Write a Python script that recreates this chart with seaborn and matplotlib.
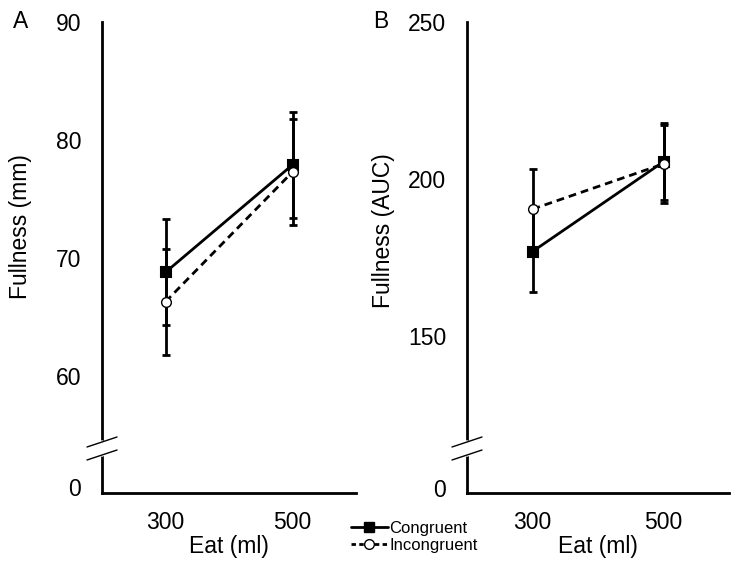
import numpy as np
import pandas as pd
import seaborn as sns
import matplotlib.pyplot as plt
from matplotlib.lines import Line2D

# dados
eat = ['300', '500']
conds = ['Congruent', 'Incongruent']

mm_cong = [68.8, 77.9]
mm_incong = [66.3, 77.3]
mm_cong_err = [4.5, 4.5]
mm_incong_err = [4.5, 4.5]

auc_cong = [176.9, 205.5]
auc_incong = [190.4, 204.8]
auc_cong_err = [12.8, 12.2]
auc_incong_err = [12.8, 12.3]

mm_ticks = [60, 70, 80, 90]
auc_ticks = [150, 200, 250]

sns.set_style('white')
plt.rcParams['font.family'] = ['Liberation Sans', 'DejaVu Sans']
plt.rcParams['text.color'] = 'black'
plt.rcParams['axes.labelcolor'] = 'black'
plt.rcParams['xtick.color'] = 'black'
plt.rcParams['ytick.color'] = 'black'

FS = 16.5

fig = plt.figure(figsize=(7.43, 5.68), dpi=100)
axA = fig.add_axes([102/743, 75/568, 254/743, 471/568])
axB = fig.add_axes([467/743, 75/568, 262/743, 471/568])


def painel(ax, cong, incong, cong_err, incong_err, ylim, ticks, zero_pos, ylabel, letra, label_xy):
    df = pd.DataFrame({
        'eat': eat * 2,
        'value': list(cong) + list(incong),
        'cond': [conds[0]] * len(eat) + [conds[1]] * len(eat),
    })
    xs = np.arange(len(eat))
    ax.errorbar(xs, cong, yerr=cong_err, fmt='none', ecolor='black',
                elinewidth=2, capsize=3, capthick=2, zorder=1)
    ax.errorbar(xs, incong, yerr=incong_err, fmt='none', ecolor='black',
                elinewidth=2, capsize=3, capthick=2, zorder=1)
    sns.pointplot(data=df, x='eat', y='value', hue='cond', order=eat, hue_order=conds,
                  palette=['black', 'black'], markers=['s', 'o'], linestyles=['-', '--'],
                  errorbar=None, legend=False, ax=ax, markersize=7, linewidth=2)
    for ln in ax.lines:
        if ln.get_marker() == 'o':
            ln.set_markerfacecolor('white')
            ln.set_markeredgecolor('black')
            ln.set_markeredgewidth(1)
            ln.set_dashes([2.8, 1.8])
            ln.set_zorder(4)
        elif ln.get_marker() == 's':
            ln.set_zorder(3)

    ax.set_xlim(-0.5, 1.5)
    ax.set_ylim(*ylim)
    ax.set_yticks([zero_pos] + ticks)
    ax.set_yticklabels(['0'] + [str(t) for t in ticks])
    ax.tick_params(axis='y', direction='in', length=3, width=1.5, pad=15, labelsize=FS)
    ax.tick_params(axis='x', length=0, pad=13, labelsize=FS)
    ax.set_xlabel('Eat (ml)', fontsize=FS, labelpad=1)
    ax.set_ylabel(ylabel, fontsize=FS)
    ax.yaxis.set_label_coords(*label_xy)
    sns.despine(ax=ax)
    for s in ['left', 'bottom']:
        ax.spines[s].set_linewidth(2)
        ax.spines[s].set_color('black')

    # quebra do eixo
    y1, y2 = (493 - 455) / 471, (493 - 442) / 471
    ax.plot([0, 0], [y1 + 0.002, y2 - 0.002], color='white', lw=4,
            transform=ax.transAxes, clip_on=False, zorder=5)
    dx = 15 / (ax.get_position().width * 743)
    dy = 5 / 471
    for yc in [y1, y2]:
        ax.plot([-dx, dx], [yc - dy, yc + dy], color='black', lw=1,
                transform=ax.transAxes, clip_on=False, zorder=6)

    ax.text(-0.32 if letra == 'A' else -0.33, 1.0, letra, transform=ax.transAxes,
            fontsize=FS, ha='center', va='center')


painel(axA, mm_cong, mm_incong, mm_cong_err, mm_incong_err, (50.1, 90), mm_ticks,
       50.6, 'Fullness (mm)', 'A', (-0.276, 0.566))
painel(axB, auc_cong, auc_incong, auc_cong_err, auc_incong_err, (100, 250), auc_ticks,
       101.6, 'Fullness (AUC)', 'B', (-0.275, 0.558))

handles = [
    Line2D([], [], color='black', lw=2, marker='s', markersize=7, label=conds[0]),
    Line2D([], [], color='black', lw=2, marker='o', markersize=7, markerfacecolor='white',
           markeredgewidth=1, dashes=[1.6, 1.2], label=conds[1]),
]
fig.legend(handles=handles, loc='upper left', bbox_to_anchor=(351/743, 1 - 521/568),
           frameon=False, fontsize=12, handlelength=2.2, handletextpad=0.1,
           labelspacing=0.1, borderpad=0, borderaxespad=0)

fig.savefig('out.png', dpi=100)
